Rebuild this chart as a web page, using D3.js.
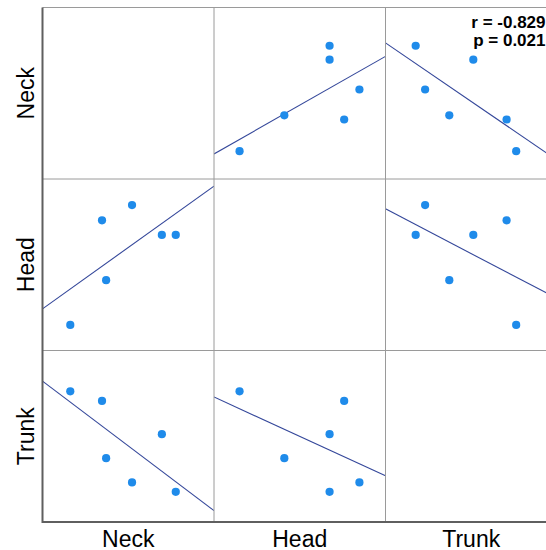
<!DOCTYPE html>
<html>
<head>
<meta charset="utf-8">
<script src="https://cdn.jsdelivr.net/npm/d3@7/dist/d3.min.js"></script>
<style>
  html, body { margin: 0; padding: 0; background: #fff; }
  svg { display: block; }
  text { font-family: "Liberation Sans", Arial, sans-serif; fill: #000; }
</style>
</head>
<body>
<svg id="chart" width="546" height="550"></svg>
<script>
// Variables of the scatterplot matrix
const variables = ["Neck", "Head", "Trunk"];

// One value per subject, in the same subject order for each variable
const neck  = [16.2, 34.7, 52.2, 69.6, 77.7, 37.1];
const head  = [14.9, 75.9, 84.8, 67.4, 67.4, 41.0];
const trunk = [76.2, 70.6, 23.1, 51.2, 17.6, 37.2];

// Value range shown on each variable's axis
const valueDomain = [0, 100];

// Correlation annotation for the Neck / Trunk pair
const statLines = ["r = -0.829", "p = 0.021"];

const series = { Neck: neck, Head: head, Trunk: trunk };

const frameLeft = 42.5, frameTop = 7.5, cell = 171.5;
const svg = d3.select("#chart");

// Scales placing each matrix cell
const cellX = d3.scaleBand().domain(variables).range([frameLeft, frameLeft + cell * variables.length]);
const cellY = d3.scaleBand().domain(variables).range([frameTop, frameTop + cell * variables.length]);

// Value scales inside one cell
const vx = d3.scaleLinear().domain(valueDomain).range([0, cell]);
const vy = d3.scaleLinear().domain(valueDomain).range([cell, 0]);

// Ordinary least-squares fit of y on x
function fit(xs, ys) {
  const mx = d3.mean(xs), my = d3.mean(ys);
  const sxy = d3.sum(xs, (x, i) => (x - mx) * (ys[i] - my));
  const sxx = d3.sum(xs, x => (x - mx) * (x - mx));
  const b = sxy / sxx;
  return { b, a: my - b * mx };
}

const defs = svg.append("defs");
defs.append("clipPath").attr("id", "cellClip")
  .append("rect").attr("width", cell).attr("height", cell);

variables.forEach(rowVar => {
  variables.forEach(colVar => {
    const g = svg.append("g")
      .attr("transform", `translate(${cellX(colVar)},${cellY(rowVar)})`);
    if (rowVar === colVar) return;
    const xs = series[colVar], ys = series[rowVar];
    const { a, b } = fit(xs, ys);
    const plot = g.append("g").attr("clip-path", "url(#cellClip)");
    const d0 = valueDomain[0], d1 = valueDomain[1];
    plot.append("line")
      .attr("x1", vx(d0)).attr("y1", vy(a + b * d0))
      .attr("x2", vx(d1)).attr("y2", vy(a + b * d1))
      .attr("stroke", "#34479a").attr("stroke-width", 1.1);
    plot.selectAll("circle").data(xs.map((x, i) => [x, ys[i]]))
      .join("circle")
      .attr("cx", d => vx(d[0])).attr("cy", d => vy(d[1]))
      .attr("r", 4.1).attr("fill", "#1f8bea");
  });
});

// Grid lines between cells
const gridColor = "#9a9a9a";
const frameRight = frameLeft + cell * variables.length;
const frameBottom = frameTop + cell * variables.length;
for (let i = 1; i < variables.length; i++) {
  svg.append("line").attr("x1", frameLeft + cell * i).attr("x2", frameLeft + cell * i)
    .attr("y1", frameTop).attr("y2", frameBottom).attr("stroke", gridColor).attr("stroke-width", 1);
  svg.append("line").attr("y1", frameTop + cell * i).attr("y2", frameTop + cell * i)
    .attr("x1", frameLeft).attr("x2", frameRight).attr("stroke", gridColor).attr("stroke-width", 1);
}
svg.append("line").attr("x1", frameLeft).attr("x2", frameRight).attr("y1", frameTop).attr("y2", frameTop)
  .attr("stroke", gridColor).attr("stroke-width", 1);
svg.append("line").attr("x1", frameRight).attr("x2", frameRight).attr("y1", frameTop).attr("y2", frameBottom)
  .attr("stroke", gridColor).attr("stroke-width", 1);

// Axis frame on the left and bottom
svg.append("path")
  .attr("d", `M${frameLeft},${frameTop}V${frameBottom}H${frameRight}`)
  .attr("fill", "none").attr("stroke", "#5f5f5f").attr("stroke-width", 2);

// Variable names
svg.selectAll(".xlab").data(variables).join("text").attr("class", "xlab")
  .attr("x", d => cellX(d) + cell / 2).attr("y", 546.5)
  .attr("text-anchor", "middle").attr("font-size", 23).text(d => d);

svg.selectAll(".ylab").data(variables).join("text").attr("class", "ylab")
  .attr("transform", d => `translate(33.5,${cellY(d) + cell / 2}) rotate(-90)`)
  .attr("text-anchor", "middle").attr("font-size", 23).text(d => d);

// Correlation annotation
svg.selectAll(".stat").data(statLines).join("text").attr("class", "stat")
  .attr("x", 545.5).attr("y", (d, i) => 27.5 + i * 18)
  .attr("text-anchor", "end").attr("font-size", 17).attr("font-weight", "bold")
  .text(d => d);
</script>
</body>
</html>
